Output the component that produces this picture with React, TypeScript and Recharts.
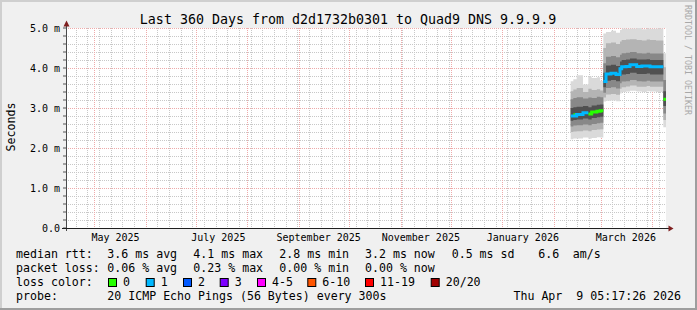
import React from 'react';
import { ComposedChart, Area, Line, XAxis, YAxis, CartesianGrid } from 'recharts';

// x is measured in days since the start of the 360-day window (Apr 14 2025 05:17)
const days = [302.8, 304.4, 306.4, 310.2, 313.4, 315.4, 318.5, 320.5, 322.4, 324, 327, 330, 332.4, 333.4, 336, 338.4, 342.4, 345.5, 348.4, 350.4, 354, 358.4, 360];
const median = [2.80, 2.83, 2.84, 2.88, 2.85, 2.90, 2.92, 2.93, 3.66, 3.85, 3.87, 3.84, 3.98, 4.03, 4.04, 4.08, 4.04, 4.05, 4.05, 4.03, 4.03, 3.22, 3.22];
const lossCount = [1, 0, 1, 1, 0, 0, 0, 0, 1, 1, 1, 1, 1, 1, 1, 1, 1, 1, 1, 1, 1, 0, 0];
const pingMax = [3.67, 3.72, 3.82, 3.59, 3.79, 3.75, 3.77, 3.68, 4.86, 4.90, 4.93, 4.88, 4.95, 4.99, 4.98, 4.99, 5.00, 4.97, 4.99, 4.98, 4.99, 4.37, 4.37];
const pingP90 = [3.42, 3.46, 3.50, 3.40, 3.48, 3.45, 3.47, 3.44, 4.50, 4.62, 4.64, 4.60, 4.66, 4.70, 4.71, 4.72, 4.70, 4.69, 4.71, 4.70, 4.69, 4.02, 4.02];
const pingP75 = [3.22, 3.25, 3.27, 3.24, 3.26, 3.25, 3.28, 3.27, 4.12, 4.28, 4.30, 4.27, 4.33, 4.37, 4.38, 4.40, 4.37, 4.36, 4.38, 4.36, 4.36, 3.70, 3.70];
const pingP60 = [3.00, 3.02, 3.03, 3.05, 3.02, 3.06, 3.08, 3.09, 3.88, 4.06, 4.08, 4.05, 4.16, 4.20, 4.21, 4.24, 4.21, 4.21, 4.22, 4.20, 4.20, 3.42, 3.42];
const pingP40 = [2.68, 2.70, 2.71, 2.74, 2.71, 2.75, 2.77, 2.78, 3.52, 3.68, 3.70, 3.67, 3.80, 3.84, 3.85, 3.88, 3.85, 3.85, 3.86, 3.84, 3.84, 3.05, 3.05];
const pingP25 = [2.54, 2.56, 2.57, 2.59, 2.57, 2.60, 2.62, 2.63, 3.38, 3.50, 3.52, 3.49, 3.62, 3.66, 3.67, 3.70, 3.67, 3.66, 3.68, 3.66, 3.66, 2.86, 2.86];
const pingP10 = [2.40, 2.41, 2.42, 2.44, 2.42, 2.45, 2.46, 2.47, 3.26, 3.34, 3.35, 3.33, 3.48, 3.52, 3.54, 3.56, 3.53, 3.53, 3.55, 3.53, 3.53, 2.70, 2.70];
const pingMin = [2.22, 2.24, 2.24, 2.26, 2.23, 2.25, 2.27, 2.26, 3.16, 3.18, 3.19, 3.17, 3.36, 3.40, 3.41, 3.43, 3.41, 3.40, 3.42, 3.41, 3.40, 2.52, 2.52];

const xLabelDays = [29.7, 91.4, 151.6, 212.9, 274.1, 335.9];
const xLabels = ['May 2025', 'July 2025', 'September 2025', 'November 2025', 'January 2026', 'March 2026'];
const monthTicks = [16.78, 47.78, 77.78, 108.78, 139.78, 169.78, 200.78, 230.78, 261.78, 292.78, 320.78, 351.78];
const weekTicks: number[] = [];
for (let d = 5.78; d < 360; d += 7) weekTicks.push(Math.round(d * 100) / 100);

const yMinorTicks = [0, 0.2, 0.4, 0.6, 0.8, 1, 1.2, 1.4, 1.6, 1.8, 2, 2.2, 2.4, 2.6, 2.8, 3, 3.2, 3.4, 3.6, 3.8, 4, 4.2, 4.4, 4.6, 4.8, 5];
const yMajorTicks = [0, 1, 2, 3, 4, 5];
const yTickLabels = ['0.0', '1.0 m', '2.0 m', '3.0 m', '4.0 m', '5.0 m'];

const lossLabels = ['0', '1', '2', '3', '4-5', '6-10', '11-19', '20/20'];
const lossColors = ['#26ff00', '#00b8ff', '#0059ff', '#7e00ff', '#ff00ff', '#ff5500', '#ff0000', '#a00000'];

const rows = days.map((d, i) => {
  const colorOf = (c: number) =>
    lossCount[i] === c ? median[i] : i > 0 && lossCount[i - 1] === c ? median[i - 1] : null;
  return {
    day: d,
    b1: [pingMin[i], pingMax[i]],
    b2: [pingP10[i], pingP90[i]],
    b3: [pingP25[i], pingP75[i]],
    b4: [pingP40[i], pingP60[i]],
    medG: colorOf(0),
    medB: colorOf(1),
  };
});

const MONO = '"DejaVu Sans Mono", monospace';

const scaleOf = (axis: any) => {
  const s = axis && axis.scale;
  if (typeof s === 'function') return (v: number) => s(v);
  if (s && typeof s.map === 'function') return (v: number) => s.map(v);
  return (v: number) => v;
};
const vGen = (values: number[]) => (props: any) => {
  const f = scaleOf(props.xAxis);
  return values.map((v) => Math.round(f(v)) + 0.5);
};
const hGen = (values: number[]) => (props: any) => {
  const f = scaleOf(props.yAxis);
  return values.map((v) => Math.round(f(v)) + 0.5);
};

const YTick = (props: any) => {
  const { x, y, payload } = props;
  const idx = yMajorTicks.findIndex((v) => Math.abs(v - payload.value) < 1e-6);
  if (idx < 0) return <g />;
  return (
    <text x={x} y={y + 3.7} textAnchor="end" fontFamily={MONO} fontSize={10} fill="#000">
      {yTickLabels[idx]}
    </text>
  );
};

const XTick = (props: any) => {
  const { x, y, payload } = props;
  const idx = xLabelDays.findIndex((v) => Math.abs(v - payload.value) < 1e-6);
  return (
    <text x={x} y={y + 13} textAnchor="middle" fontFamily={MONO} fontSize={10} fill="#000">
      {idx >= 0 ? xLabels[idx] : ''}
    </text>
  );
};

const T = (p: { x: number; y: number; children: React.ReactNode; anchor?: 'start' | 'middle' | 'end' }) => (
  <text x={p.x} y={p.y} textAnchor={p.anchor || 'start'} fontFamily={MONO} fontSize={11.6} fill="#000" style={{ whiteSpace: 'pre' }}>
    {p.children}
  </text>
);

const legendRtt = [
  [16, 'median rtt:'], [107.3, '3.6 ms avg'], [193.3, '4.1 ms max'], [279.3, '2.8 ms min'],
  [365, '3.2 ms now'], [451.7, '0.5 ms sd'], [538.3, '6.6'], [572.7, 'am/s'],
] as [number, string][];
const legendLoss = [
  [16, 'packet loss:'], [107.3, '0.06 % avg'], [193.3, '0.23 % max'], [279.3, '0.00 % min'], [365, '0.00 % now'],
] as [number, string][];
const squareX = [108, 145.7, 183, 219.7, 257, 307.3, 365, 430.7];

export default function App() {
  return (
    <div style={{ position: 'absolute', left: 0, top: 0, width: 697, height: 310, background: '#f0f0f0', overflow: 'hidden' }}>
      <ComposedChart width={697} height={310} data={rows} margin={{ top: 28, right: 31, bottom: 52, left: 0 }}>
        <XAxis xAxisId="main" dataKey="day" type="number" domain={[0, 360]} allowDataOverflow ticks={xLabelDays} interval={0}
          tick={<XTick />} tickLine={false} axisLine={false} tickSize={0} tickMargin={0} height={30} />
        <YAxis yAxisId="y" type="number" domain={[0, 5]} allowDataOverflow ticks={yMinorTicks} interval={0}
          tick={<YTick />} tickSize={3} tickMargin={3} tickLine={{ stroke: '#555' }} axisLine={false} width={66} />
        <CartesianGrid xAxisId="main" yAxisId="y" stroke="#c8c8c8" strokeDasharray="1 1" fill="#ffffff" fillOpacity={1}
          verticalCoordinatesGenerator={vGen(weekTicks)} horizontalCoordinatesGenerator={hGen(yMinorTicks.slice(1))} />
        <CartesianGrid xAxisId="main" yAxisId="y" stroke="#eeaaaa" strokeDasharray="1 1"
          verticalCoordinatesGenerator={vGen(monthTicks)} horizontalCoordinatesGenerator={hGen(yMajorTicks.slice(1))} />
        <Area xAxisId="main" yAxisId="y" dataKey="b1" type="stepAfter" stroke="none" fill="#dadada" fillOpacity={1} isAnimationActive={false} />
        <Area xAxisId="main" yAxisId="y" dataKey="b2" type="stepAfter" stroke="none" fill="#b4b4b4" fillOpacity={1} isAnimationActive={false} />
        <Area xAxisId="main" yAxisId="y" dataKey="b3" type="stepAfter" stroke="none" fill="#888888" fillOpacity={1} isAnimationActive={false} />
        <Area xAxisId="main" yAxisId="y" dataKey="b4" type="stepAfter" stroke="none" fill="#505050" fillOpacity={1} isAnimationActive={false} />
        <Line xAxisId="main" yAxisId="y" dataKey="medG" type="stepAfter" stroke="#26ff00" strokeWidth={3} dot={false} activeDot={false} isAnimationActive={false} />
        <Line xAxisId="main" yAxisId="y" dataKey="medB" type="stepAfter" stroke="#00b8ff" strokeWidth={3} dot={false} activeDot={false} isAnimationActive={false} />
      </ComposedChart>
      <svg width={697} height={310} style={{ position: 'absolute', left: 0, top: 0, pointerEvents: 'none' }}>
        <rect x={0} y={0} width={697} height={2} fill="#cfcfcf" />
        <rect x={0} y={0} width={2} height={310} fill="#cfcfcf" />
        <rect x={0} y={308} width={697} height={2} fill="#9e9e9e" />
        <rect x={695} y={0} width={2} height={310} fill="#9e9e9e" />
        <line x1={66.5} y1={231} x2={66.5} y2={24} stroke="#4a4a4a" strokeWidth={1} />
        <polygon points="63.5,26.5 69.5,26.5 66.5,20.5" fill="#7f1f1f" />
        <line x1={62} y1={228.5} x2={669} y2={228.5} stroke="#1f1f1f" strokeWidth={1} />
        <polygon points="668.5,225.5 668.5,231.5 673.5,228.5" fill="#7f1f1f" />
        <text x={348} y={24} textAnchor="middle" fontFamily={MONO} fontSize={13.3} fill="#000">
          Last 360 Days from d2d1732b0301 to Quad9 DNS 9.9.9.9
        </text>
        <text x={14.5} y={127} transform="rotate(-90 14.5 127)" textAnchor="middle" fontFamily={MONO} fontSize={11.6} fill="#000">
          Seconds
        </text>
        <text x={685} y={5} transform="rotate(90 685 5)" textAnchor="start" fontFamily={MONO} fontSize={8.3} fill="#a8a8a8">
          RRDTOOL / TOBI OETIKER
        </text>
        {legendRtt.map(([x, s], i) => <T key={'r' + i} x={x} y={258}>{s}</T>)}
        {legendLoss.map(([x, s], i) => <T key={'l' + i} x={x} y={272}>{s}</T>)}
        <T x={16} y={286}>loss color:</T>
        {lossLabels.map((s, i) => (
          <g key={'c' + i}>
            <rect x={squareX[i] + 0.5} y={278.5} width={8} height={8} fill={lossColors[i]} stroke="#000" strokeWidth={1} />
            <T x={squareX[i] + 15} y={286}>{s}</T>
          </g>
        ))}
        <T x={16} y={300}>probe:</T>
        <T x={107.3} y={300}>20 ICMP Echo Pings (56 Bytes) every 300s</T>
        <T x={681} y={300} anchor="end">Thu Apr  9 05:17:26 2026</T>
      </svg>
    </div>
  );
}
